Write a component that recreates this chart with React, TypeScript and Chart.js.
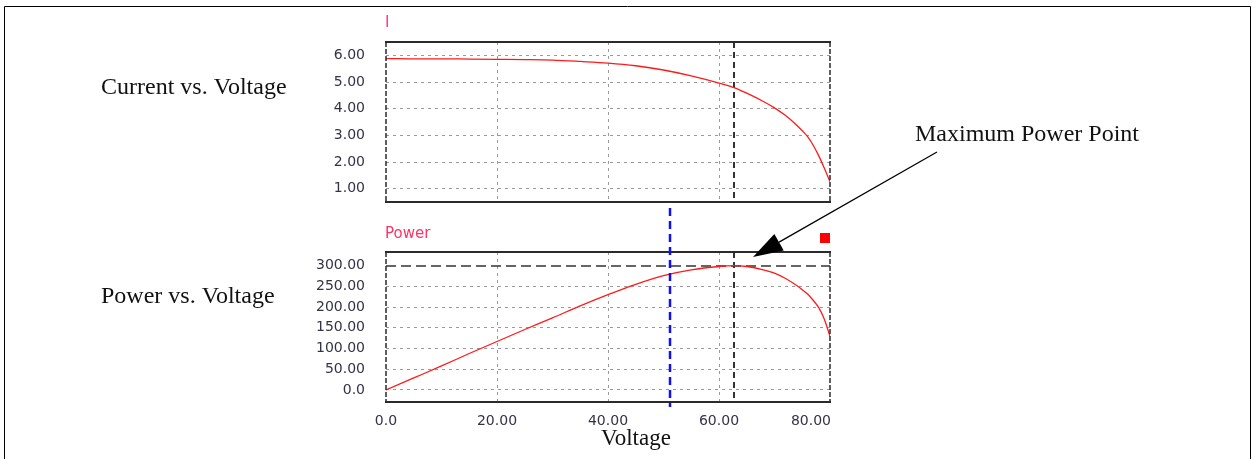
import React, { useEffect, useRef } from 'react';
import { Chart, registerables } from 'chart.js';

Chart.register(...registerables);

// ---------- data ----------
const voltage = [0, 5, 10, 15, 20, 25, 30, 35, 40, 45, 50, 55, 60, 62.7, 65, 68, 70, 72, 74, 75, 76, 77, 78, 79, 80];
const current = [5.88, 5.87, 5.87, 5.86, 5.85, 5.84, 5.82, 5.77, 5.71, 5.61, 5.45, 5.23, 4.96, 4.79, 4.58, 4.27, 4.03, 3.74, 3.38, 3.17, 2.94, 2.62, 2.22, 1.76, 1.26];
const power = [0, 29, 58, 88, 117, 146, 174, 203, 230, 255, 276, 290, 298, 300, 298, 290, 282, 269, 252, 242, 231, 216, 198, 170, 129];

const xTicks = [0, 20, 40, 60, 80];
const xTickLabels = ['0.0', '20.00', '40.00', '60.00', '80.00'];
const currentTicks = [1, 2, 3, 4, 5, 6];
const currentTickLabels = ['1.00', '2.00', '3.00', '4.00', '5.00', '6.00'];
const powerTicks = [0, 50, 100, 150, 200, 250, 300];
const powerTickLabels = ['0.0', '50.00', '100.00', '150.00', '200.00', '250.00', '300.00'];

const mppVoltage = 62.7;
const mppPower = 300;
const cursorVoltage = 51.2;

const W = 1253;
const H = 459;
const TICK_FONT = { family: 'DejaVu Sans', size: 14 };
const TICK_COLOR = '#333348';
const SERIF = '24px "Liberation Serif", "Times New Roman", serif';
const SERIF_AXIS = '23px "Liberation Serif", "Times New Roman", serif';

function plotBorder(chart: any) {
  const { ctx, chartArea: a } = chart;
  ctx.save();
  ctx.strokeStyle = '#2a2a2a';
  ctx.lineWidth = 2;
  ctx.setLineDash([]);
  ctx.beginPath();
  ctx.moveTo(a.left - 1, a.top);
  ctx.lineTo(a.right + 1, a.top);
  ctx.moveTo(a.left - 1, a.bottom);
  ctx.lineTo(a.right + 1, a.bottom);
  ctx.stroke();
  ctx.lineWidth = 1.5;
  ctx.setLineDash([5, 2]);
  ctx.beginPath();
  ctx.moveTo(a.left, a.top);
  ctx.lineTo(a.left, a.bottom);
  ctx.moveTo(a.right, a.top);
  ctx.lineTo(a.right, a.bottom);
  ctx.stroke();
  ctx.restore();
}

function vLine(chart: any, v: number, y0: number, y1: number, color: string, width: number, dash: number[]) {
  const { ctx } = chart;
  const x = Math.round(chart.scales.x.getPixelForValue(v));
  ctx.save();
  ctx.strokeStyle = color;
  ctx.lineWidth = width;
  ctx.setLineDash(dash);
  ctx.beginPath();
  ctx.moveTo(x, y0);
  ctx.lineTo(x, y1);
  ctx.stroke();
  ctx.restore();
}

function makeConfig(
  values: number[],
  yMin: number,
  yMax: number,
  yTicks: number[],
  yLabels: string[],
  top: number,
  bottom: number,
  extraPlugins: any[]
): any {
  return {
    type: 'line',
    data: {
      datasets: [
        {
          data: voltage.map((v, i) => ({ x: v, y: values[i] })),
          borderColor: '#ff1a1a',
          borderWidth: 1.3,
          pointRadius: 0,
          cubicInterpolationMode: 'monotone',
          fill: false,
        },
      ],
    },
    options: {
      responsive: false,
      animation: false,
      devicePixelRatio: 1,
      layout: { padding: { left: 386 - 80, right: W - 830, top, bottom: H - bottom } },
      plugins: { legend: { display: false }, tooltip: { enabled: false } },
      scales: {
        x: {
          type: 'linear',
          min: 0,
          max: 80,
          afterBuildTicks: (s: any) => {
            s.ticks = xTicks.map((v) => ({ value: v }));
          },
          afterFit: (s: any) => {
            s.height = 0;
          },
          ticks: { display: false },
          grid: {
            drawTicks: false,
            lineWidth: 1,
            color: (c: any) => (c.tick && (c.tick.value === 0 || c.tick.value === 80) ? 'rgba(0,0,0,0)' : '#9a9a9a'),
          },
          border: { display: false, dash: [3, 4] },
        },
        y: {
          type: 'linear',
          min: yMin,
          max: yMax,
          afterBuildTicks: (s: any) => {
            s.ticks = yTicks.map((v) => ({ value: v }));
          },
          afterFit: (s: any) => {
            s.width = 80;
          },
          ticks: {
            font: TICK_FONT,
            color: TICK_COLOR,
            padding: 21,
            callback: (v: any) => yLabels[yTicks.indexOf(Number(v))] ?? '',
          },
          grid: {
            drawTicks: false,
            lineWidth: 1,
            color: (c: any) => (c.tick && c.tick.value === mppPower && yTicks === powerTicks ? 'rgba(0,0,0,0)' : '#9a9a9a'),
          },
          border: { display: false, dash: [3, 4] },
        },
      },
    },
    plugins: extraPlugins,
  };
}

const currentPlugin = {
  id: 'currentDecor',
  beforeDatasetsDraw(chart: any) {
    const a = chart.chartArea;
    vLine(chart, mppVoltage, a.top, a.bottom, '#333', 2, [6, 4]);
  },
  afterDatasetsDraw(chart: any) {
    plotBorder(chart);
    const { ctx } = chart;
    ctx.save();
    ctx.fillStyle = '#ff3399';
    ctx.font = '15px "DejaVu Sans"';
    ctx.textAlign = 'left';
    ctx.textBaseline = 'alphabetic';
    ctx.fillText('I', chart.chartArea.left - 1, 27);
    ctx.fillStyle = '#111';
    ctx.font = SERIF;
    ctx.fillText('Current vs. Voltage', 101, 94);
    ctx.restore();
  },
};

const powerPlugin = {
  id: 'powerDecor',
  beforeDatasetsDraw(chart: any) {
    const { ctx } = chart;
    const a = chart.chartArea;
    const y = Math.round(chart.scales.y.getPixelForValue(mppPower));
    ctx.save();
    ctx.strokeStyle = '#333';
    ctx.lineWidth = 1.5;
    ctx.setLineDash([10, 5]);
    ctx.beginPath();
    ctx.moveTo(a.left, y);
    ctx.lineTo(a.right, y);
    ctx.stroke();
    ctx.restore();
    vLine(chart, mppVoltage, a.top, a.bottom, '#333', 2, [6, 4]);
  },
  afterDatasetsDraw(chart: any) {
    const { ctx } = chart;
    const a = chart.chartArea;
    plotBorder(chart);
    // cursor line
    vLine(chart, cursorVoltage, 208, 407, '#1010f0', 2.5, [8, 5]);

    ctx.save();
    // x tick labels
    ctx.font = '14px "DejaVu Sans"';
    ctx.fillStyle = TICK_COLOR;
    ctx.textBaseline = 'middle';
    xTicks.forEach((v, i) => {
      const x = chart.scales.x.getPixelForValue(v);
      const last = i === xTicks.length - 1;
      ctx.textAlign = last ? 'right' : 'center';
      ctx.fillText(xTickLabels[i], last ? a.right + 1 : x, 421);
    });

    // series label & marker
    ctx.textBaseline = 'alphabetic';
    ctx.textAlign = 'left';
    ctx.fillStyle = '#ff3366';
    ctx.font = '15px "DejaVu Sans"';
    ctx.fillText('Power', a.left - 1, 238);
    ctx.fillStyle = '#ff0000';
    ctx.fillRect(820, 233, 10, 10);

    // serif annotations
    ctx.fillStyle = '#111';
    ctx.font = SERIF;
    ctx.fillText('Power vs. Voltage', 101, 303);
    ctx.fillText('Maximum Power Point', 915, 141);
    ctx.font = SERIF_AXIS;
    ctx.fillText('Voltage', 601, 445);

    // arrow
    const sx = 937, sy = 152, tx = 753, ty = 257;
    const dx = sx - tx, dy = sy - ty;
    const len = Math.hypot(dx, dy);
    const ux = dx / len, uy = dy / len;
    const hl = 30, hw = 9.5;
    ctx.strokeStyle = '#000';
    ctx.lineWidth = 1.2;
    ctx.setLineDash([]);
    ctx.beginPath();
    ctx.moveTo(sx, sy);
    ctx.lineTo(tx + ux * hl, ty + uy * hl);
    ctx.stroke();
    ctx.fillStyle = '#000';
    ctx.beginPath();
    ctx.moveTo(tx, ty);
    ctx.lineTo(tx + ux * hl - uy * hw, ty + uy * hl + ux * hw);
    ctx.lineTo(tx + ux * hl + uy * hw, ty + uy * hl - ux * hw);
    ctx.closePath();
    ctx.fill();

    // outer frame
    ctx.strokeStyle = '#000';
    ctx.lineWidth = 1;
    ctx.beginPath();
    ctx.moveTo(4.5, H + 2);
    ctx.lineTo(4.5, 6.5);
    ctx.lineTo(1250.5, 6.5);
    ctx.lineTo(1250.5, H + 2);
    ctx.stroke();
    ctx.restore();
  },
};

export default function App() {
  const topRef = useRef<HTMLCanvasElement | null>(null);
  const botRef = useRef<HTMLCanvasElement | null>(null);

  useEffect(() => {
    const c1 = new Chart(
      topRef.current as HTMLCanvasElement,
      makeConfig(current, 0.5, 6.5, currentTicks, currentTickLabels, 42, 202, [currentPlugin])
    );
    const c2 = new Chart(
      botRef.current as HTMLCanvasElement,
      makeConfig(power, -29, 333, powerTicks, powerTickLabels, 252, 402, [powerPlugin])
    );
    return () => {
      c1.destroy();
      c2.destroy();
    };
  }, []);

  const cs: React.CSSProperties = { position: 'absolute', left: 0, top: 0, width: W, height: H };
  return (
    <div style={{ position: 'fixed', left: 0, top: 0, width: W, height: H, background: '#fff' }}>
      <canvas ref={botRef} width={W} height={H} style={cs} />
      <canvas ref={topRef} width={W} height={H} style={cs} />
    </div>
  );
}
